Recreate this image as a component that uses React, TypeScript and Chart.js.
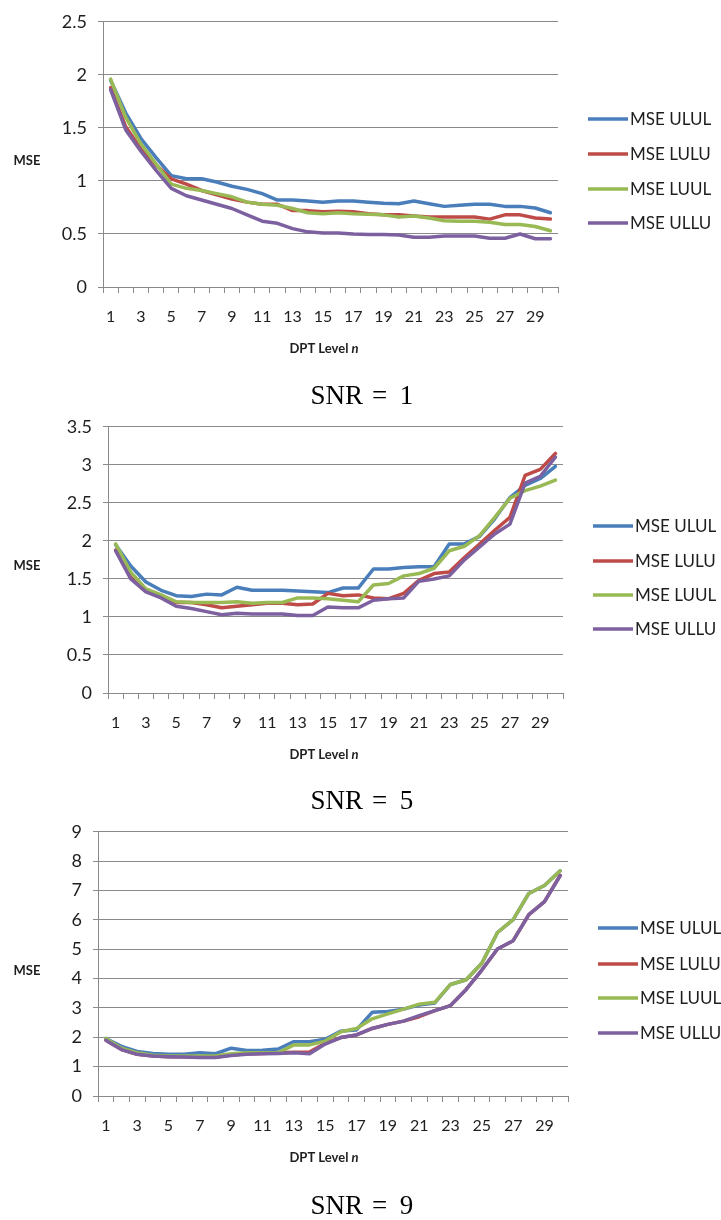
import React, { useEffect, useRef } from "react";
import { Chart, registerables } from "chart.js";

Chart.register(...registerables);

// ---------- data ----------
const levels = ["1","2","3","4","5","6","7","8","9","10","11","12","13","14","15","16","17","18","19","20","21","22","23","24","25","26","27","28","29","30"];
const seriesNames = ["MSE ULUL", "MSE LULU", "MSE LUUL", "MSE ULLU"];
const seriesColors = ["#4A7EBB", "#BE4B48", "#98B954", "#7D60A0"];

// SNR = 1
const snr1ULUL = [1.95,1.64,1.40,1.22,1.05,1.02,1.02,0.99,0.95,0.92,0.88,0.82,0.82,0.81,0.80,0.81,0.81,0.80,0.79,0.785,0.81,0.785,0.76,0.77,0.78,0.78,0.76,0.76,0.745,0.70];
const snr1LULU = [1.88,1.51,1.30,1.15,1.02,0.97,0.91,0.87,0.83,0.80,0.78,0.78,0.72,0.72,0.71,0.715,0.71,0.69,0.68,0.68,0.67,0.66,0.66,0.66,0.66,0.64,0.68,0.68,0.65,0.64];
const snr1LUUL = [1.96,1.60,1.35,1.16,0.97,0.93,0.91,0.88,0.85,0.80,0.78,0.77,0.74,0.70,0.69,0.70,0.69,0.685,0.68,0.66,0.67,0.65,0.625,0.62,0.62,0.61,0.59,0.59,0.57,0.53];
const snr1ULLU = [1.86,1.48,1.28,1.10,0.93,0.86,0.82,0.78,0.74,0.68,0.62,0.60,0.55,0.52,0.51,0.51,0.50,0.495,0.495,0.49,0.47,0.47,0.48,0.48,0.48,0.46,0.46,0.50,0.455,0.455];

// SNR = 5
const snr5ULUL = [1.95,1.67,1.46,1.35,1.28,1.27,1.30,1.29,1.39,1.35,1.35,1.35,1.34,1.33,1.32,1.38,1.38,1.63,1.63,1.65,1.66,1.66,1.96,1.96,2.06,2.29,2.57,2.73,2.82,2.98];
const snr5LULU = [1.88,1.52,1.34,1.27,1.19,1.19,1.16,1.12,1.14,1.16,1.18,1.18,1.16,1.17,1.31,1.28,1.29,1.25,1.24,1.31,1.48,1.57,1.59,1.78,1.96,2.14,2.31,2.86,2.94,3.15];
const snr5LUUL = [1.96,1.59,1.37,1.29,1.20,1.19,1.19,1.19,1.20,1.18,1.19,1.19,1.25,1.25,1.24,1.22,1.20,1.42,1.44,1.54,1.57,1.64,1.87,1.93,2.07,2.31,2.56,2.66,2.72,2.80];
const snr5ULLU = [1.87,1.50,1.33,1.25,1.14,1.11,1.07,1.03,1.05,1.04,1.04,1.04,1.02,1.02,1.13,1.12,1.12,1.22,1.24,1.25,1.47,1.50,1.54,1.75,1.92,2.09,2.22,2.76,2.85,3.10];

// SNR = 9
const snr9ULUL = [1.96,1.69,1.52,1.45,1.42,1.42,1.47,1.44,1.63,1.55,1.56,1.60,1.85,1.85,1.93,2.21,2.25,2.85,2.88,2.96,3.10,3.17,3.80,3.96,4.52,5.57,6.01,6.90,7.17,7.67];
const snr9LULU = [1.90,1.58,1.42,1.36,1.34,1.34,1.33,1.33,1.40,1.44,1.45,1.47,1.49,1.50,1.80,1.99,2.08,2.30,2.44,2.55,2.70,2.91,3.08,3.63,4.29,5.01,5.29,6.18,6.62,7.52];
const snr9LUUL = [1.96,1.63,1.47,1.39,1.36,1.36,1.36,1.36,1.44,1.47,1.47,1.47,1.74,1.74,1.87,2.19,2.30,2.63,2.80,2.96,3.13,3.19,3.80,3.96,4.52,5.57,6.01,6.90,7.17,7.67];
const snr9ULLU = [1.90,1.58,1.42,1.36,1.34,1.33,1.31,1.31,1.38,1.42,1.44,1.45,1.47,1.44,1.77,1.99,2.08,2.30,2.44,2.55,2.74,2.91,3.08,3.63,4.29,5.01,5.29,6.18,6.62,7.50];

const snrLabels = ["1", "5", "9"];
const yMaxes = [2.5, 3.5, 9];
const ySteps = [0.5, 0.5, 1];

// ---------- layout ----------
type Panel = {
  top: number; height: number;
  areaTop: number; areaLeft: number; areaRight: number; areaBottom: number;
  legendY: number[];
};

const panels: Panel[] = [
  { top: 0, height: 405, areaTop: 16, areaLeft: 103, areaRight: 558, areaBottom: 287, legendY: [119, 154, 189, 223] },
  { top: 405, height: 405, areaTop: 18, areaLeft: 108, areaRight: 563, areaBottom: 288, legendY: [121, 156, 190, 224] },
  { top: 810, height: 410, areaTop: 15, areaLeft: 98, areaRight: 568, areaBottom: 286, legendY: [118, 154, 188, 223] },
];

const W = 721;
const X_AXIS_H = 40;
const FONT = "Lato, 'Open Sans', sans-serif";
const GRID = "#8a8a8a";
const TEXT = "#1e1e1e";

function makeDecor(panel: Panel, snr: string) {
  return {
    id: "decor" + snr,
    afterDraw(chart: any) {
      const ctx = chart.ctx as CanvasRenderingContext2D;
      const area = chart.chartArea;
      ctx.save();
      // legend
      chart.data.datasets.forEach((ds: any, i: number) => {
        const y = panel.legendY[i];
        const x0 = area.right + 30;
        ctx.strokeStyle = ds.borderColor;
        ctx.lineWidth = 3.5;
        ctx.lineCap = "butt";
        ctx.beginPath();
        ctx.moveTo(x0, y);
        ctx.lineTo(x0 + 40, y);
        ctx.stroke();
        ctx.fillStyle = TEXT;
        ctx.font = `17px ${FONT}`;
        ctx.textAlign = "left";
        ctx.textBaseline = "alphabetic";
        ctx.fillText(ds.label, x0 + 42, y + 6);
      });
      // y axis title (horizontal)
      ctx.fillStyle = TEXT;
      ctx.font = `bold 13px ${FONT}`;
      ctx.textAlign = "center";
      ctx.textBaseline = "alphabetic";
      ctx.fillText("MSE", 27, 165);
      // x axis title with italic n
      const t1 = "DPT Level ";
      const t2 = "n";
      ctx.font = `bold 13px ${FONT}`;
      const w1 = ctx.measureText(t1).width;
      ctx.font = `italic bold 13px ${FONT}`;
      const w2 = ctx.measureText(t2).width;
      const xs = 324 - (w1 + w2) / 2;
      const yb = panel.areaBottom + 61 + 5;
      ctx.textAlign = "left";
      ctx.font = `bold 13px ${FONT}`;
      ctx.fillText(t1, xs, yb);
      ctx.font = `italic bold 13px ${FONT}`;
      ctx.fillText(t2, xs + w1, yb);
      // panel caption SNR = x
      const cx = 360;
      const base = 404;
      ctx.fillStyle = "#000";
      ctx.font = `27px 'Liberation Serif', 'DejaVu Serif', serif`;
      ctx.textAlign = "right";
      ctx.fillText("SNR", cx + 3, base);
      ctx.textAlign = "center";
      ctx.fillText("=", cx + 19.5, base);
      ctx.fillText(snr, cx + 46.5, base);
      ctx.restore();
    },
  };
}

function ChartPanel({ index, series }: { index: number; series: number[][] }) {
  const ref = useRef<HTMLCanvasElement | null>(null);
  const panel = panels[index];
  useEffect(() => {
    if (!ref.current) return;
    const chart = new Chart(ref.current, {
      type: "line",
      data: {
        labels: levels,
        datasets: series.map((vals, i) => ({
          label: seriesNames[i],
          data: vals,
          borderColor: seriesColors[i],
          backgroundColor: seriesColors[i],
          borderWidth: 3.5,
          pointRadius: 0,
          tension: 0,
          fill: false,
          borderJoinStyle: "round" as const,
          borderCapStyle: "round" as const,
          order: 3 - i,
        })),
      },
      options: {
        responsive: false,
        animation: false,
        events: [],
        layout: {
          padding: {
            left: 0,
            top: panel.areaTop,
            right: W - panel.areaRight,
            bottom: panel.height - panel.areaBottom - X_AXIS_H,
          },
        },
        plugins: {
          legend: { display: false },
          tooltip: { enabled: false },
          title: { display: false },
        },
        scales: {
          x: {
            type: "category",
            offset: true,
            afterFit: (s: any) => { s.height = X_AXIS_H; },
            grid: {
              offset: true,
              drawOnChartArea: false,
              drawTicks: true,
              tickLength: 6,
              color: GRID,
              lineWidth: 1,
            },
            border: { display: true, color: GRID, width: 1 },
            ticks: {
              autoSkip: false,
              maxRotation: 0,
              minRotation: 0,
              padding: 14,
              color: TEXT,
              font: { family: FONT, size: 16 },
              callback: (_v: any, i: number) => (i % 2 === 0 ? levels[i] : ""),
            },
          },
          y: {
            min: 0,
            max: yMaxes[index],
            afterFit: (s: any) => { s.width = panel.areaLeft; },
            grid: {
              drawTicks: true,
              tickLength: 5,
              color: GRID,
              lineWidth: 1,
            },
            border: { display: true, color: GRID, width: 1 },
            ticks: {
              stepSize: ySteps[index],
              padding: 11,
              color: TEXT,
              font: { family: FONT, size: 18 },
              callback: (v: any) => String(v),
            },
          },
        },
      },
      plugins: [makeDecor(panel, snrLabels[index])],
    });
    return () => chart.destroy();
  }, []);
  return (
    <canvas
      ref={ref}
      width={W}
      height={panel.height}
      style={{ position: "absolute", left: 0, top: panel.top, width: W, height: panel.height, display: "block" }}
    />
  );
}

export default function App() {
  return (
    <div style={{ position: "absolute", left: 0, top: 0, width: W, height: 1220, background: "#fff", overflow: "hidden" }}>
      <ChartPanel index={0} series={[snr1ULUL, snr1LULU, snr1LUUL, snr1ULLU]} />
      <ChartPanel index={1} series={[snr5ULUL, snr5LULU, snr5LUUL, snr5ULLU]} />
      <ChartPanel index={2} series={[snr9ULUL, snr9LULU, snr9LUUL, snr9ULLU]} />
    </div>
  );
}
